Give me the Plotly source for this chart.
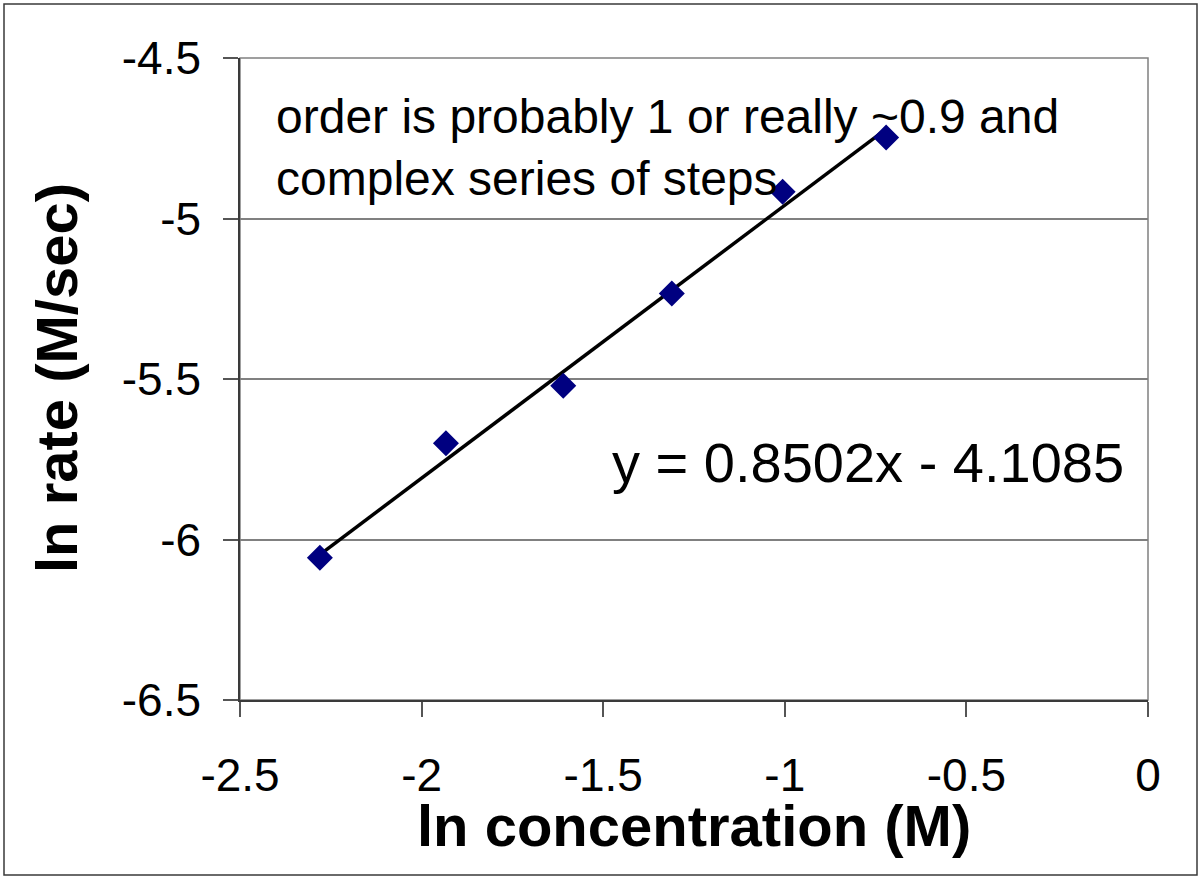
import plotly.graph_objects as go

# Data
ln_conc = [-2.280, -1.933, -1.610, -1.311, -1.006, -0.721]
ln_rate = [-6.057, -5.700, -5.521, -5.234, -4.917, -4.748]

# Linear trendline reported on the chart
slope = 0.8502
intercept = -4.1085
trend_x = [min(ln_conc), max(ln_conc)]
trend_y = [slope * v + intercept for v in trend_x]

x_ticks = [-2.5, -2, -1.5, -1, -0.5, 0]
x_tick_labels = ["-2.5", "-2", "-1.5", "-1", "-0.5", "0"]
y_ticks = [-6.5, -6, -5.5, -5, -4.5]
y_tick_labels = ["-6.5", "-6", "-5.5", "-5", "-4.5"]

note_text = "order is probably 1 or really ~0.9 and<br>complex series of steps"
eq_text = "y = 0.8502x - 4.1085"
x_title = "ln concentration (M)"
y_title = "ln rate (M/sec)"

W, H = 1198, 876
L, R, T, B = 240, 1148, 58, 700
pw, ph = R - L, B - T


def px(xp):
    return (xp - L) / pw


def py(yp):
    return (B - yp) / ph


FONT = "Liberation Sans, Arial, sans-serif"

fig = go.Figure()
fig.add_trace(go.Scatter(
    x=trend_x, y=trend_y, mode="lines",
    line=dict(color="black", width=3.5), hoverinfo="skip", showlegend=False,
))
fig.add_trace(go.Scatter(
    x=ln_conc, y=ln_rate, mode="markers",
    marker=dict(symbol="diamond", size=20, color="#000080", line=dict(width=0)),
    showlegend=False,
))

fig.update_layout(
    width=W, height=H,
    margin=dict(l=L, r=W - R, t=T, b=H - B, pad=0),
    paper_bgcolor="white", plot_bgcolor="white",
    font=dict(family=FONT, color="black"),
    showlegend=False,
)

fig.update_xaxes(
    range=[-2.5, 0], tickvals=x_ticks, ticktext=x_tick_labels,
    showgrid=False, zeroline=False,
    showline=True, linecolor="#3a3a3a", linewidth=1.5,
    ticks="outside", ticklen=15, tickwidth=1.5, tickcolor="#555555",
    tickfont=dict(size=46, family=FONT, color="black"),
    ticklabelstandoff=19,
)
fig.update_yaxes(
    range=[-6.5, -4.5], tickvals=y_ticks, ticktext=y_tick_labels,
    showgrid=True, gridcolor="#808080", gridwidth=1.5, zeroline=False,
    showline=True, linecolor="#3a3a3a", linewidth=1.5,
    ticks="outside", ticklen=15, tickwidth=1.5, tickcolor="#555555",
    tickfont=dict(size=46, family=FONT, color="black"),
    ticklabelstandoff=13,
)

# plot-area border (gray) and outer chart frame
fig.add_shape(type="rect", xref="paper", yref="paper", x0=0, x1=1, y0=0, y1=1,
              line=dict(color="#808080", width=1.5), layer="below")
fig.add_shape(type="rect", xref="paper", yref="paper",
              x0=px(4), x1=px(1197), y0=py(875), y1=py(4),
              line=dict(color="#3a3a3a", width=1.5), layer="below")

fig.add_annotation(text=note_text, xref="paper", yref="paper",
                   x=px(274), y=py(88), xanchor="left", yanchor="top",
                   showarrow=False, align="left",
                   font=dict(size=48, family=FONT, color="black"))
fig.add_annotation(text=eq_text, xref="paper", yref="paper",
                   x=px(610), y=py(462), xanchor="left", yanchor="middle",
                   showarrow=False, align="left",
                   font=dict(size=56, family=FONT, color="black"))
fig.add_annotation(text="<b>" + x_title + "</b>", xref="paper", yref="paper",
                   x=px(694), y=py(826), xanchor="center", yanchor="middle",
                   showarrow=False, font=dict(size=58, family=FONT, color="black"))
fig.add_annotation(text="<b>" + y_title + "</b>", xref="paper", yref="paper",
                   x=px(56), y=py(378), xanchor="center", yanchor="middle",
                   textangle=-90, showarrow=False,
                   font=dict(size=58, family=FONT, color="black"))

fig.write_html("out.html")
